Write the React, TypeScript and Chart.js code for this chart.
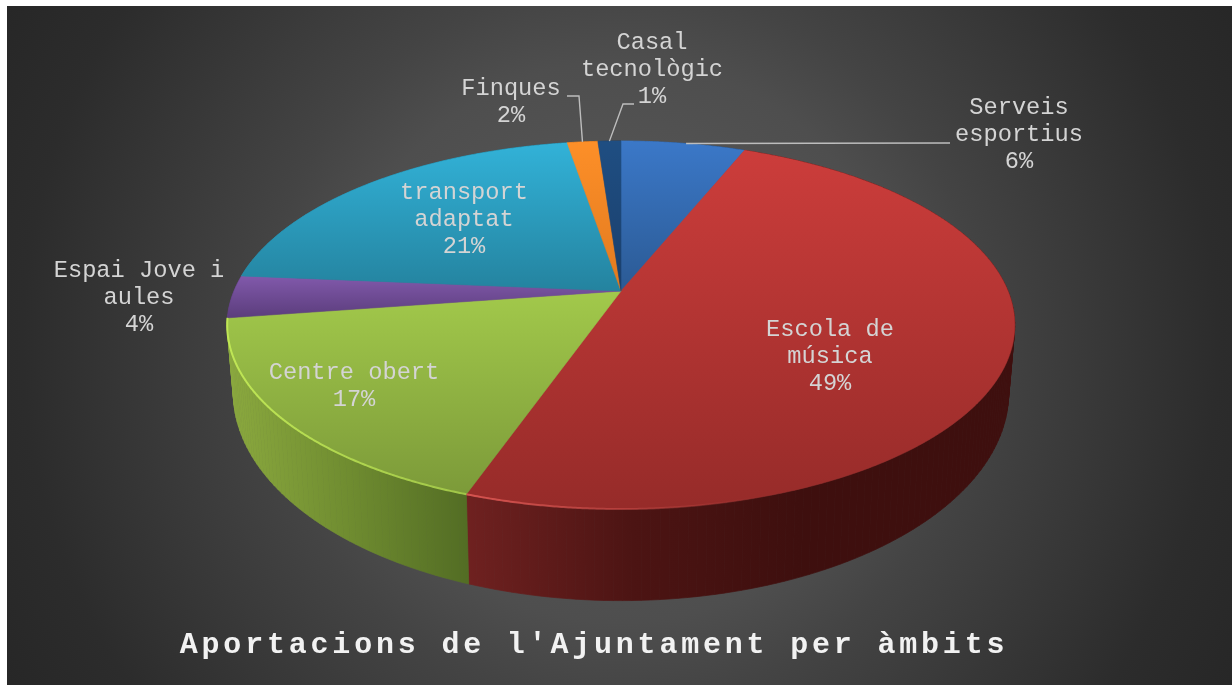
import React, { useEffect, useRef } from "react";
import { Chart, registerables } from "chart.js";

Chart.register(...registerables);

// ---- data ----
const categories = [
  "Serveis esportius",
  "Escola de música",
  "Centre obert",
  "Espai Jove i aules",
  "transport adaptat",
  "Finques",
  "Casal tecnològic",
];
const shares = [6.1, 49.25, 17.3, 3.72, 21, 1.5, 1.13];
const chartTitle = "Aportacions de l'Ajuntament per àmbits";

// ---- styles ----
const topLight = ["#3b78c8", "#cc3d3b", "#a2c94b", "#8159ab", "#32b2d8", "#fd8f28", "#1f4e82"];
const topDark = ["#2b5a94", "#962b29", "#7c9a39", "#5b3d7c", "#24839f", "#e27a1f", "#1a3f6c"];
const wallStops = [
  ["#2b5a94", "#1b3a60"],
  ["#6f2120", "#4c1413", "#3e0f0e"],
  ["#8aa83e", "#6f8c30", "#536d24"],
  ["#5b3d7c", "#3d2854"],
  ["#24839f", "#175a6d"],
  ["#b86318", "#8f4c12"],
  ["#1a3f6c", "#102a4a"],
];
const wallSpans = [
  [621, 745],
  [467, 800],
  [232, 467],
  [227, 243],
  [243, 570],
  [570, 597],
  [597, 621],
];
const labelLines = [
  ["Serveis", "esportius"],
  ["Escola de", "música"],
  ["Centre obert"],
  ["Espai Jove i", "aules"],
  ["transport", "adaptat"],
  ["Finques"],
  ["Casal", "tecnològic"],
];
const labelAnchors = [
  { x: 1012, y: 102 },
  { x: 823, y: 324 },
  { x: 347, y: 367 },
  { x: 132, y: 265 },
  { x: 457, y: 187 },
  { x: 504, y: 83 },
  { x: 645, y: 37 },
];
const leaderLines: ({ x: number; y: number }[] | null)[] = [
  [{ x: 943, y: 137 }],
  null,
  null,
  null,
  null,
  [{ x: 560, y: 90 }, { x: 572, y: 90 }],
  [{ x: 627, y: 98 }, { x: 616, y: 98 }],
];

// canvas offset inside the page
const OX = 7;
const OY = 6;
const W = 1225;
const H = 679;

// perspective ellipse model (canvas coordinates)
const CX = 621 - OX;
const TOP = { a: 387, b: 177.7, y: 291 - OY };
const BASE = { a: 381, b: 201, y: 354 - OY };
const K = 0.185;

type Plane = { a: number; b: number; y: number };
const project = (angle: number, plane: Plane) => {
  const u = Math.cos(angle);
  const v = Math.sin(angle);
  const w = 1 - K * v;
  return { x: CX + (plane.a * u) / w, y: plane.y + (plane.b * v) / w };
};

const sample = (start: number, end: number, plane: Plane, step = 0.005) => {
  const n = Math.max(2, Math.ceil((end - start) / step));
  const pts = [];
  for (let i = 0; i <= n; i++) pts.push(project(start + ((end - start) * i) / n, plane));
  return pts;
};

const gradientOf = (
  ctx: CanvasRenderingContext2D,
  x0: number,
  y0: number,
  x1: number,
  y1: number,
  stops: string[]
) => {
  const g = ctx.createLinearGradient(x0, y0, x1, y1);
  stops.forEach((c, i) => g.addColorStop(stops.length === 1 ? 0 : i / (stops.length - 1), c));
  return g;
};

const backgroundPlugin = {
  id: "radialBackground",
  beforeDraw(chart: any) {
    const { ctx, width, height } = chart;
    const g = ctx.createRadialGradient(620 - OX, 342 - OY, 0, 620 - OX, 342 - OY, 720);
    g.addColorStop(0, "#5c5c5c");
    g.addColorStop(0.39, "#4e4e4e");
    g.addColorStop(0.5, "#444444");
    g.addColorStop(0.83, "#2c2c2c");
    g.addColorStop(1, "#262626");
    ctx.save();
    ctx.fillStyle = g;
    ctx.fillRect(0, 0, width, height);
    ctx.restore();
    (ctx as any).letterSpacing = "3.8px";
  },
};

const pie3dPlugin = {
  id: "pie3d",
  beforeDatasetsDraw(chart: any) {
    const ctx: CanvasRenderingContext2D = chart.ctx;
    (ctx as any).letterSpacing = "0px";
    const arcs = chart.getDatasetMeta(0).data;
    ctx.save();

    // side walls, back to front, swept as small quads so the silhouette tangents are filled
    arcs
      .map((arc: any, i: number) => ({ arc, i }))
      .sort(
        (p: any, q: any) =>
          Math.sin((p.arc.startAngle + p.arc.endAngle) / 2) - Math.sin((q.arc.startAngle + q.arc.endAngle) / 2)
      )
      .forEach(({ arc, i }: any) => {
        const top = sample(arc.startAngle, arc.endAngle, TOP, 0.02);
        const base = sample(arc.startAngle, arc.endAngle, BASE, 0.02);
        const fill = gradientOf(ctx, wallSpans[i][0] - OX, 0, wallSpans[i][1] - OX, 0, wallStops[i]);
        ctx.fillStyle = fill;
        ctx.strokeStyle = fill;
        ctx.lineWidth = 0.7;
        for (let j = 0; j + 1 < top.length; j++) {
          ctx.beginPath();
          ctx.moveTo(top[j].x, top[j].y);
          ctx.lineTo(top[j + 1].x, top[j + 1].y);
          ctx.lineTo(base[j + 1].x, base[j + 1].y);
          ctx.lineTo(base[j].x, base[j].y);
          ctx.closePath();
          ctx.fill();
          ctx.stroke();
        }
      });

    // top faces
    arcs.forEach((arc: any, i: number) => {
      const rim = sample(arc.startAngle, arc.endAngle, TOP);
      const apex = { x: CX, y: TOP.y };
      const ys = rim.concat([apex]).map((p) => p.y);
      const fill = gradientOf(ctx, 0, Math.min(...ys), 0, Math.max(...ys), [topLight[i], topDark[i]]);
      ctx.beginPath();
      ctx.moveTo(apex.x, apex.y);
      rim.forEach((p) => ctx.lineTo(p.x, p.y));
      ctx.closePath();
      ctx.fillStyle = fill;
      ctx.strokeStyle = fill;
      ctx.lineWidth = 0.6;
      ctx.fill();
      ctx.stroke();
    });

    // bevel along the front edge
    arcs.forEach((arc: any, i: number) => {
      if (i !== 1 && i !== 2) return;
      const rim = sample(arc.startAngle, arc.endAngle, TOP);
      ctx.beginPath();
      rim.forEach((p, j) => (j ? ctx.lineTo(p.x, p.y) : ctx.moveTo(p.x, p.y)));
      ctx.lineWidth = 2;
      ctx.strokeStyle =
        i === 2
          ? gradientOf(ctx, 232 - OX, 0, 467 - OX, 0, ["#bfe655", "#a0c648"])
          : gradientOf(ctx, 467 - OX, 0, 760 - OX, 0, ["rgba(222,88,84,0.9)", "rgba(222,88,84,0)"]);
      ctx.stroke();
    });
    ctx.restore();
    return false;
  },
};

const labelPlugin = {
  id: "sliceLabels",
  afterDraw(chart: any) {
    const ctx: CanvasRenderingContext2D = chart.ctx;
    const arcs = chart.getDatasetMeta(0).data;
    const values: number[] = chart.data.datasets[0].data;
    const total = values.reduce((a, b) => a + b, 0);
    ctx.save();
    // leader lines
    ctx.strokeStyle = "#bdbdbd";
    ctx.lineWidth = 1.4;
    arcs.forEach((arc: any, i: number) => {
      const l = leaderLines[i];
      if (!l) return;
      const mid = (arc.startAngle + arc.endAngle) / 2;
      const end = project(i === 0 ? arc.startAngle + 0.2 : mid, TOP);
      ctx.beginPath();
      ctx.moveTo(l[0].x, l[0].y);
      l.slice(1).forEach((p) => ctx.lineTo(p.x, p.y));
      ctx.lineTo(end.x, end.y);
      ctx.stroke();
    });
    // text
    ctx.font = '23.7px "Liberation Mono", monospace';
    ctx.textAlign = "center";
    ctx.textBaseline = "middle";
    ctx.fillStyle = "#d4d4d4";
    values.forEach((v, i) => {
      const lines = [...labelLines[i], `${Math.round((v / total) * 100)}%`];
      lines.forEach((t, j) => {
        ctx.fillText(t, labelAnchors[i].x, labelAnchors[i].y + j * 27);
      });
    });
    ctx.restore();
  },
};

export default function App() {
  const ref = useRef<HTMLCanvasElement>(null);
  useEffect(() => {
    if (!ref.current) return;
    const chart = new Chart(ref.current, {
      type: "pie",
      data: {
        labels: categories,
        datasets: [{ data: shares, backgroundColor: topLight, borderWidth: 0 }],
      },
      options: {
        responsive: false,
        animation: false,
        events: [],
        layout: { padding: { right: 51, bottom: 22 } },
        plugins: {
          legend: { display: false },
          tooltip: { enabled: false },
          title: {
            display: true,
            position: "bottom",
            text: chartTitle,
            color: "#f2f2f2",
            font: { family: '"Liberation Mono", monospace', size: 30, weight: "bold" },
            padding: 0,
          },
        },
      },
      plugins: [backgroundPlugin, pie3dPlugin, labelPlugin],
    } as any);
    return () => chart.destroy();
  }, []);
  return (
    <canvas
      ref={ref}
      width={W}
      height={H}
      style={{ position: "fixed", left: OX, top: OY, width: W, height: H, display: "block" }}
    />
  );
}
